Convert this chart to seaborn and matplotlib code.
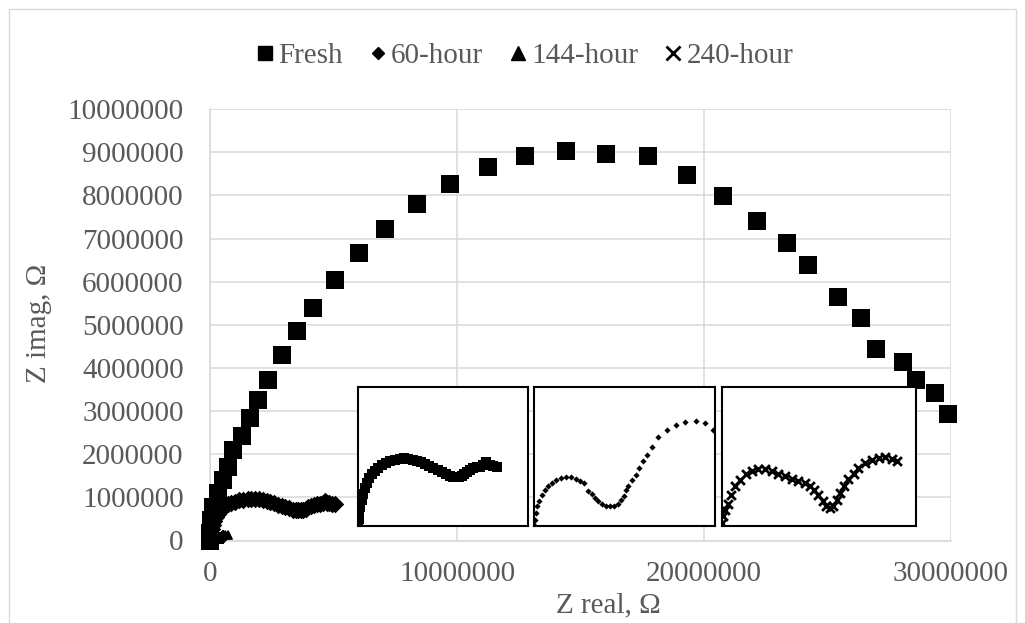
import matplotlib
matplotlib.use("Agg")
import matplotlib.pyplot as plt
import seaborn as sns
from matplotlib.lines import Line2D
from matplotlib.patches import Rectangle
from matplotlib.ticker import FuncFormatter, MultipleLocator

# ---------------- data (ohm) ----------------
fresh_x = [0.00e6, 0.00e6, 0.04e6, 0.13e6, 0.34e6, 0.54e6, 0.74e6, 0.92e6, 1.28e6, 1.62e6,
           1.96e6, 2.35e6, 2.93e6, 3.53e6, 4.18e6, 5.06e6, 6.03e6, 7.10e6, 8.38e6, 9.70e6,
           11.26e6, 12.74e6, 14.41e6, 16.03e6, 17.73e6, 19.32e6, 20.78e6, 22.13e6, 23.36e6,
           24.20e6, 25.43e6, 26.36e6, 26.98e6, 28.07e6, 28.58e6, 29.36e6, 29.88e6]
fresh_y = [0.00e6, 0.17e6, 0.47e6, 0.78e6, 1.10e6, 1.40e6, 1.71e6, 2.09e6, 2.42e6, 2.83e6,
           3.25e6, 3.73e6, 4.29e6, 4.85e6, 5.39e6, 6.04e6, 6.66e6, 7.23e6, 7.80e6, 8.26e6,
           8.67e6, 8.91e6, 9.04e6, 8.96e6, 8.91e6, 8.47e6, 7.98e6, 7.41e6, 6.89e6,
           6.39e6, 5.64e6, 5.17e6, 4.44e6, 4.14e6, 3.73e6, 3.41e6, 2.93e6]

h60_x = [0, 0.019e6, 0.037e6, 0.074e6, 0.124e6, 0.174e6, 0.242e6, 0.316e6, 0.403e6, 0.496e6,
         0.608e6, 0.725e6, 0.856e6, 1.004e6, 1.159e6, 1.339e6, 1.525e6, 1.674e6, 1.829e6,
         1.984e6, 2.133e6, 2.288e6, 2.443e6, 2.592e6, 2.747e6, 2.902e6, 3.050e6, 3.205e6,
         3.354e6, 3.472e6, 3.577e6, 3.683e6, 3.782e6, 3.875e6, 3.968e6, 4.092e6, 4.210e6,
         4.334e6, 4.458e6, 4.569e6, 4.675e6, 4.749e6, 4.824e6, 4.941e6, 5.065e6]
h60_y = [0, 0.090e6, 0.178e6, 0.270e6, 0.370e6, 0.456e6, 0.538e6, 0.612e6, 0.682e6, 0.740e6,
         0.792e6, 0.836e6, 0.872e6, 0.904e6, 0.930e6, 0.950e6, 0.964e6, 0.968e6, 0.964e6,
         0.952e6, 0.936e6, 0.912e6, 0.888e6, 0.862e6, 0.834e6, 0.802e6, 0.772e6, 0.742e6,
         0.714e6, 0.700e6, 0.696e6, 0.700e6, 0.714e6, 0.740e6, 0.772e6, 0.800e6, 0.824e6,
         0.840e6, 0.848e6, 0.872e6, 0.910e6, 0.880e6, 0.868e6, 0.856e6, 0.848e6]

h144_x = [0, 0.004e6, 0.008e6, 0.014e6, 0.022e6, 0.032e6, 0.046e6, 0.059e6, 0.074e6, 0.092e6,
          0.110e6, 0.133e6, 0.152e6, 0.173e6, 0.191e6, 0.207e6, 0.225e6, 0.239e6, 0.253e6,
          0.266e6, 0.281e6, 0.299e6, 0.315e6, 0.332e6, 0.347e6, 0.359e6, 0.371e6, 0.381e6,
          0.391e6, 0.405e6, 0.423e6, 0.437e6, 0.450e6, 0.467e6, 0.488e6, 0.515e6, 0.550e6,
          0.589e6, 0.626e6, 0.670e6, 0.709e6, 0.743e6]
h144_y = [0.001e6, 0.008e6, 0.018e6, 0.028e6, 0.036e6, 0.045e6, 0.052e6, 0.058e6, 0.062e6,
          0.066e6, 0.069e6, 0.070e6, 0.070e6, 0.068e6, 0.065e6, 0.061e6, 0.050e6, 0.046e6,
          0.040e6, 0.035e6, 0.031e6, 0.029e6, 0.028e6, 0.029e6, 0.032e6, 0.037e6, 0.043e6,
          0.052e6, 0.058e6, 0.066e6, 0.073e6, 0.083e6, 0.093e6, 0.102e6, 0.114e6, 0.128e6,
          0.139e6, 0.146e6, 0.150e6, 0.152e6, 0.148e6, 0.139e6]

h240_x = [0.001e6, 0.004e6, 0.008e6, 0.014e6, 0.022e6, 0.031e6, 0.043e6, 0.056e6, 0.070e6,
          0.085e6, 0.100e6, 0.116e6, 0.131e6, 0.147e6, 0.162e6, 0.178e6, 0.194e6, 0.205e6,
          0.215e6, 0.224e6, 0.234e6, 0.243e6, 0.251e6, 0.259e6, 0.267e6, 0.275e6, 0.284e6,
          0.294e6, 0.306e6, 0.317e6, 0.333e6, 0.348e6, 0.364e6, 0.379e6, 0.394e6, 0.406e6]
h240_y = [0.005e6, 0.020e6, 0.034e6, 0.048e6, 0.067e6, 0.085e6, 0.099e6, 0.111e6, 0.118e6,
          0.122e6, 0.122e6, 0.119e6, 0.113e6, 0.108e6, 0.102e6, 0.097e6, 0.092e6, 0.086e6,
          0.077e6, 0.067e6, 0.054e6, 0.043e6, 0.038e6, 0.043e6, 0.056e6, 0.070e6, 0.086e6,
          0.101e6, 0.113e6, 0.124e6, 0.135e6, 0.143e6, 0.146e6, 0.148e6, 0.145e6, 0.141e6]

series_labels = ["Fresh", "60-hour", "144-hour", "240-hour"]
x_ticks = [0, 10000000, 20000000, 30000000]

# ---------------- style ----------------
sns.set_theme(style="white")
plt.rcParams['font.family'] = ['Liberation Serif', 'DejaVu Serif']
TXT = "#595959"
GRID = "#d9d9d9"
FS = 21

W, H = 1025, 623
fig = plt.figure(figsize=(W / 100, H / 100), dpi=100)


def px_axes(l, t, r, b):
    return fig.add_axes([l / W, 1 - b / H, (r - l) / W, (b - t) / H])


ax = px_axes(210, 109.2, 951, 540.5)

sns.scatterplot(x=h144_x, y=h144_y, marker="^", s=40, color="black", linewidth=0, ax=ax)
sns.scatterplot(x=h240_x, y=h240_y, marker="x", s=30, color="black", linewidth=1.2, ax=ax)
sns.scatterplot(x=h60_x, y=h60_y, marker="D", s=80, color="black", linewidth=0, ax=ax)
sns.scatterplot(x=fresh_x, y=fresh_y, marker="s", s=170, color="black", linewidth=0, ax=ax)
for c in ax.collections:
    c.set_clip_on(False)
    c.set_zorder(3)

ax.set_xlim(0, 30000000)
ax.set_ylim(0, 10000000)
ax.set_xticks(x_ticks)
ax.yaxis.set_major_locator(MultipleLocator(1000000))
fmt = FuncFormatter(lambda v, p: f"{int(round(v))}")
ax.xaxis.set_major_formatter(fmt)
ax.yaxis.set_major_formatter(fmt)
ax.grid(True, color=GRID, linewidth=1.1)
ax.set_axisbelow(True)
for s in ["top", "right"]:
    ax.spines[s].set_visible(False)
for s in ["left", "bottom"]:
    ax.spines[s].set_color(GRID)
    ax.spines[s].set_linewidth(1.1)
ax.tick_params(axis="both", length=0, labelsize=FS, labelcolor=TXT)
ax.tick_params(axis="y", pad=19)
ax.tick_params(axis="x", pad=15)
ax.set_xlabel("")
ax.set_ylabel("")

fig.text(608 / W, 1 - 605 / H, "Z real, Ω", ha="center", va="center", fontsize=FS, color=TXT)
fig.text(39 / W, 1 - 323 / H, "Z imag, Ω", ha="center", va="center", rotation=90,
         fontsize=FS, color=TXT)

# ---------------- legend ----------------
handles = [
    Line2D([], [], marker="s", color="black", linestyle="none", markersize=9.5),
    Line2D([], [], marker="D", color="black", linestyle="none", markersize=6.5),
    Line2D([], [], marker="^", color="black", linestyle="none", markersize=10),
    Line2D([], [], marker="x", color="black", linestyle="none", markersize=10, markeredgewidth=2),
]
leg = fig.legend(handles, series_labels, loc="center", bbox_to_anchor=(525 / W, 1 - 56 / H),
                 ncol=4, frameon=False, fontsize=FS, handlelength=0.6, handletextpad=0.15,
                 columnspacing=0.9, borderaxespad=0)
for t in leg.get_texts():
    t.set_color(TXT)

# ---------------- insets ----------------
def inset(l, t, r, b, x, y, xlim, ylim, marker, s, lw):
    a = px_axes(l, t, r, b)
    a.set_facecolor("white")
    sns.scatterplot(x=x, y=y, marker=marker, s=s, color="black", linewidth=lw, ax=a)
    a.set_xlim(*xlim)
    a.set_ylim(*ylim)
    a.set_xticks([])
    a.set_yticks([])
    a.set_xlabel("")
    a.set_ylabel("")
    for sp in a.spines.values():
        sp.set_visible(True)
        sp.set_color("black")
        sp.set_linewidth(1.5)
    a.set_zorder(5)
    return a


inset(358.3, 386.7, 527.7, 525.7, h60_x, h60_y, (0, 6200000), (0, 2000000), "s", 60, 0)
inset(534, 387.3, 715, 525.7, h144_x, h144_y, (0, 750000), (0, 200000), "D", 10, 0)
inset(721.7, 387.3, 915.7, 525.7, h240_x, h240_y, (0, 450000), (0, 300000), "x", 40, 2.0)

# outer chart border
fig.add_artist(Rectangle((9 / W, -0.05), (1016 - 9) / W, 1.05 - 9 / H, transform=fig.transFigure,
                         fill=False, edgecolor=GRID, linewidth=1.0))

fig.savefig("out.png", dpi=100, facecolor="white")
